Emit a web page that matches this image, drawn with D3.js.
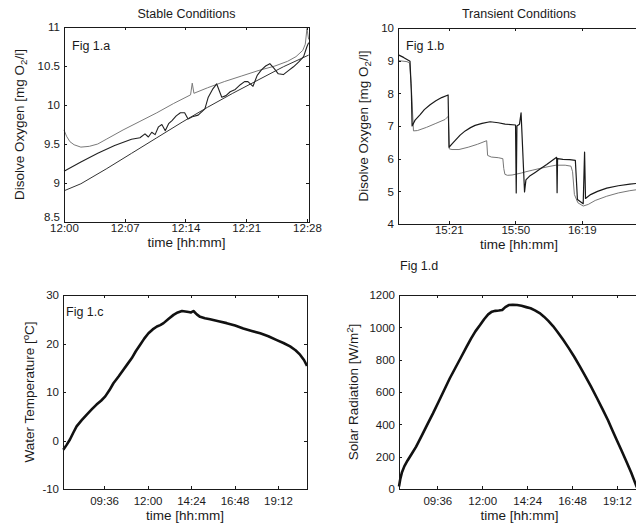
<!DOCTYPE html>
<html>
<head>
<meta charset="utf-8">
<script src="https://cdn.jsdelivr.net/npm/d3@7"></script>
<style>
body { margin: 0; background: #fff; }
svg { display: block; font-family: "Liberation Sans", Arial, sans-serif; }
</style>
</head>
<body>
<svg id="chart" width="636" height="527"></svg>
<script>
// Times are minutes since midnight

// Fig 1.a - stable conditions, three DO sensors
var aTopT = [720, 720.3, 720.7, 721.2, 722, 723, 724, 725, 727, 729, 731, 733, 735, 735.2, 735.4, 737, 739, 741, 743, 745, 746.5, 747.5, 748.3, 748.6, 748.8, 749];
var aTopV = [9.68, 9.6, 9.53, 9.49, 9.46, 9.47, 9.5, 9.56, 9.68, 9.79, 9.9, 10.02, 10.13, 10.28, 10.15, 10.22, 10.3, 10.37, 10.44, 10.5, 10.56, 10.62, 10.7, 10.78, 10.98, 10.84];
var aMidT = [720, 722, 724, 726, 728, 729, 729.6, 730, 730.4, 730.8, 731.2, 731.6, 732, 732.4, 732.8, 733.3, 733.8, 734.3, 734.7, 735.2, 735.9, 736.7, 737.1, 737.6, 738.1, 738.7, 739.2, 739.7, 740.3, 740.9, 741.4, 741.8, 742.4, 742.9, 743.4, 743.9, 744.4, 744.9, 745.4, 746, 746.6, 747.2, 747.8, 748.4, 748.8, 749];
var aMidV = [9.15, 9.27, 9.38, 9.48, 9.56, 9.58, 9.63, 9.59, 9.65, 9.62, 9.72, 9.75, 9.67, 9.76, 9.8, 9.86, 9.9, 9.9, 9.82, 9.85, 9.87, 9.95, 10.1, 10.2, 10.27, 10.1, 10.12, 10.17, 10.2, 10.26, 10.3, 10.3, 10.24, 10.38, 10.45, 10.5, 10.53, 10.47, 10.4, 10.39, 10.44, 10.49, 10.55, 10.62, 10.75, 10.8];
var aLowT = [720, 722, 725, 728, 731, 734, 737, 740, 743, 746, 749];
var aLowV = [8.9, 8.99, 9.18, 9.38, 9.58, 9.78, 9.97, 10.15, 10.32, 10.49, 10.64];
var aTicks = [720, 727.2, 734.4, 741.6, 748.8];
var aTickLabels = ["12:00", "12:07", "12:14", "12:21", "12:28"];
var aYTicks = [8.5, 9, 9.5, 10, 10.5, 11];
var aYLabels = ["8.5", "9", "9.5", "10", "10.5", "11"];

// Fig 1.b - transient conditions, two DO sensors
var bSolidT = [900, 902, 904.8, 905.4, 905.7, 907, 909.2, 911, 913.5, 916, 918.5, 921.3, 921.7, 923, 924.3, 926.5, 928.7, 931, 933, 936, 939.5, 943, 946, 950.5, 950.8, 951.1, 952.2, 952.9, 954.4, 955, 956.8, 959, 961.1, 964, 966.5, 968.3, 968.5, 968.7, 971, 974, 976.4, 977.3, 979.8, 980.4, 980.8, 983, 986, 990, 995, 1000, 1004];
var bSolidV = [9.17, 9.1, 8.98, 8.0, 7.0, 7.18, 7.35, 7.5, 7.65, 7.77, 7.87, 7.95, 6.35, 6.45, 6.55, 6.72, 6.85, 6.95, 7.02, 7.08, 7.13, 7.1, 7.06, 7.03, 4.95, 7.0, 7.05, 7.4, 4.98, 5.35, 5.48, 5.58, 5.68, 5.82, 5.95, 6.04, 4.96, 6.0, 5.98, 5.97, 5.95, 4.75, 4.62, 6.2, 4.78, 4.9, 5.0, 5.1, 5.17, 5.22, 5.25];
var bDotT = [900, 903.5, 904.6, 905.3, 906.3, 908, 912, 916, 920, 921.4, 921.8, 923, 926, 930, 934, 938, 938.4, 940, 943, 945, 945.4, 945.9, 947, 949, 951, 953, 955, 958, 961, 965, 968, 972, 974.5, 975.2, 976, 977.5, 979.8, 982, 985, 990, 995, 1000, 1004];
var bDotV = [9.0, 8.97, 8.93, 8.3, 6.85, 6.86, 6.96, 7.08, 7.2, 7.3, 6.3, 6.28, 6.28, 6.35, 6.44, 6.55, 6.1, 6.05, 6.03, 6.0, 5.7, 5.52, 5.49, 5.5, 5.53, 5.56, 5.6, 5.65, 5.7, 5.76, 5.8, 5.8, 5.77, 5.6, 4.9, 4.65, 4.55, 4.6, 4.72, 4.85, 4.95, 5.02, 5.06];
var bTicks = [921.6, 950.4, 979.2];
var bTickLabels = ["15:21", "15:50", "16:19"];
var bYTicks = [4, 5, 6, 7, 8, 9, 10];

// Fig 1.c - water temperature
var cT = [441, 452, 463, 474, 485, 502, 518, 535, 551, 566, 580, 594, 607, 624, 640, 654, 668, 681, 695, 709, 723, 737, 751, 762, 773, 790, 806, 820, 834, 845, 856, 864, 872, 883, 894, 910, 927, 955, 982, 1010, 1037, 1065, 1093, 1120, 1148, 1170, 1192, 1210, 1225, 1238, 1248];
var cV = [-1.9, -0.9, 0.2, 1.6, 2.9, 4.2, 5.3, 6.4, 7.4, 8.2, 9.1, 10.4, 11.8, 13.2, 14.6, 15.8, 17.0, 18.4, 19.7, 21.0, 22.1, 22.9, 23.5, 23.8, 24.2, 25.1, 25.9, 26.4, 26.7, 26.6, 26.5, 26.4, 26.7, 26.0, 25.5, 25.2, 25.0, 24.6, 24.2, 23.7, 23.1, 22.6, 22.1, 21.5, 20.7, 20.1, 19.4, 18.6, 17.7, 16.6, 15.4];

// Fig 1.d - solar radiation
var dT = [453, 457, 462, 470, 480, 494, 508, 526, 544, 562, 580, 598, 616, 634, 652, 670, 684, 698, 713, 726, 739, 751, 762, 773, 784, 794, 805, 818, 832, 846, 861, 875, 889, 904, 918, 932, 947, 961, 979, 997, 1015, 1033, 1051, 1069, 1087, 1105, 1123, 1137, 1151, 1166, 1182, 1198, 1210, 1216];
var dV = [15, 60, 100, 140, 175, 218, 262, 330, 400, 468, 540, 612, 685, 750, 815, 880, 930, 975, 1014, 1050, 1080, 1097, 1102, 1104, 1107, 1125, 1138, 1140, 1138, 1133, 1125, 1118, 1105, 1088, 1066, 1040, 1008, 973, 924, 873, 818, 758, 697, 633, 566, 497, 427, 365, 305, 241, 172, 100, 40, 10];

var dayTicks = [576, 720, 864, 1008, 1152];
var dayTickLabels = ["09:36", "12:00", "14:24", "16:48", "19:12"];
var cYTicks = [-10, 0, 10, 20, 30];
var dYTicks = [0, 200, 400, 600, 800, 1000, 1200];

var svg = d3.select("#chart");
var tickFont = 11.5;
var labelFont = 13.5;
var titleFont = 12.5;
var ink = "#1a1a1a";

function zip(t, v) {
    return t.map(function(d, i) { return [d, v[i]]; });
}

function drawPanel(p) {
    var x = d3.scaleLinear().domain(p.xDomain).range([p.left, p.right]);
    var y = d3.scaleLinear().domain(p.yDomain).range([p.bottom, p.top]);
    var g = svg.append("g");

    // lines
    var line = d3.line().x(d => x(d[0])).y(d => y(d[1]));
    p.series.forEach(function(s) {
        g.append("path")
            .datum(zip(s.t, s.v))
            .attr("d", line)
            .attr("fill", "none")
            .attr("stroke", s.color)
            .attr("stroke-width", s.width)
            .attr("stroke-linejoin", "round");
    });

    // box with inward ticks on all sides
    var tickLen = 3;
    var xb = g.append("g")
        .attr("transform", `translate(0,${p.bottom})`)
        .call(d3.axisBottom(x).tickValues(p.xTicks).tickFormat((d, i) => p.xLabels[i])
            .tickSizeInner(-tickLen).tickSizeOuter(0).tickPadding(p.xPad));
    var xt = g.append("g")
        .attr("transform", `translate(0,${p.top})`)
        .call(d3.axisTop(x).tickValues(p.xTicks).tickFormat("").tickSizeInner(-tickLen).tickSizeOuter(0));
    var yl = g.append("g")
        .attr("transform", `translate(${p.left},0)`)
        .call(d3.axisLeft(y).tickValues(p.yTicks).tickFormat((d, i) => p.yLabels ? p.yLabels[i] : d)
            .tickSizeInner(-tickLen).tickSizeOuter(0).tickPadding(4));
    var yr = g.append("g")
        .attr("transform", `translate(${p.right},0)`)
        .call(d3.axisRight(y).tickValues(p.yTicks).tickFormat("").tickSizeInner(-tickLen).tickSizeOuter(0));

    [xb, xt, yl, yr].forEach(function(a) {
        a.selectAll("path, line").attr("stroke", ink).attr("stroke-width", 1).attr("shape-rendering", "crispEdges");
        a.selectAll("text").attr("fill", ink).attr("font-size", tickFont).attr("font-family", null);
    });

    // the lowest y label sits a little higher, as in the original
    if (p.lowLabelShift) {
        yl.selectAll(".tick text").filter(d => d === p.yDomain[0])
            .attr("y", -p.lowLabelShift);
    }

    // x axis title
    g.append("text")
        .attr("x", (p.left + p.right) / 2)
        .attr("y", p.xTitleY)
        .attr("text-anchor", "middle")
        .attr("font-size", labelFont)
        .attr("fill", ink)
        .text("time [hh:mm]");

    // y axis title (rotated, with sub/superscript)
    var yt = g.append("text")
        .attr("transform", `translate(${p.yTitleX},${(p.top + p.bottom) / 2}) rotate(-90)`)
        .attr("text-anchor", "middle")
        .attr("font-size", labelFont)
        .attr("fill", ink);
    p.yTitle.forEach(function(part) {
        var ts = yt.append("tspan").text(part.text);
        if (part.shift) {
            ts.attr("dy", part.shift).attr("font-size", labelFont * 0.72);
        } else if (part.back) {
            ts.attr("dy", part.back);
        }
    });

    // panel tag
    g.append("text")
        .attr("x", p.tagX)
        .attr("y", p.tagY)
        .attr("font-size", titleFont)
        .attr("fill", ink)
        .text(p.tag);

    if (p.title) {
        g.append("text")
            .attr("x", (p.left + p.right) / 2)
            .attr("y", 18)
            .attr("text-anchor", "middle")
            .attr("font-size", titleFont)
            .attr("fill", ink)
            .text(p.title);
    }
}

drawPanel({
    left: 64, right: 309, top: 27, bottom: 222,
    xDomain: [720, 749.04], yDomain: [8.5, 11],
    xTicks: aTicks, xLabels: aTickLabels, xPad: 2,
    yTicks: aYTicks, yLabels: aYLabels, lowLabelShift: 5,
    xTitleY: 247, yTitleX: 24,
    yTitle: [{text: "Disolve Oxygen [mg O"}, {text: "2", shift: 3}, {text: "/l]", back: -3}],
    tag: "Fig 1.a", tagX: 72, tagY: 50,
    title: "Stable Conditions",
    series: [
        {t: aTopT, v: aTopV, color: "#7a7a7a", width: 1},
        {t: aMidT, v: aMidV, color: "#222", width: 1.1},
        {t: aLowT, v: aLowV, color: "#333", width: 1}
    ]
});

drawPanel({
    left: 398, right: 640, top: 28, bottom: 224,
    xDomain: [899.6, 1004.4], yDomain: [4, 10],
    xTicks: bTicks, xLabels: bTickLabels, xPad: 2,
    yTicks: bYTicks,
    xTitleY: 249, yTitleX: 368,
    yTitle: [{text: "Disolve Oxygen [mg O"}, {text: "2", shift: 3}, {text: "/l]", back: -3}],
    tag: "Fig 1.b", tagX: 406, tagY: 50,
    title: "Transient Conditions",
    series: [
        {t: bDotT, v: bDotV, color: "#777", width: 1},
        {t: bSolidT, v: bSolidV, color: "#1a1a1a", width: 1.2}
    ]
});

drawPanel({
    left: 63, right: 307, top: 295, bottom: 489,
    xDomain: [440, 1248], yDomain: [-10, 30],
    xTicks: dayTicks, xLabels: dayTickLabels, xPad: 8,
    yTicks: cYTicks,
    xTitleY: 520, yTitleX: 34,
    yTitle: [{text: "Water Temperature ["}, {text: "o", shift: -5}, {text: "C]", back: 5}],
    tag: "Fig 1.c", tagX: 66, tagY: 316,
    series: [{t: cT, v: cV, color: "#111", width: 2.6}]
});

drawPanel({
    left: 399, right: 640, top: 295, bottom: 489,
    xDomain: [453, 1226], yDomain: [0, 1200],
    xTicks: dayTicks, xLabels: dayTickLabels, xPad: 8,
    yTicks: dYTicks,
    xTitleY: 520, yTitleX: 358,
    yTitle: [{text: "Solar Radiation [W/m"}, {text: "2", shift: -5}, {text: "]", back: 5}],
    tag: "Fig 1.d", tagX: 400, tagY: 270,
    series: [{t: dT, v: dV, color: "#111", width: 2.6}]
});
</script>
</body>
</html>
